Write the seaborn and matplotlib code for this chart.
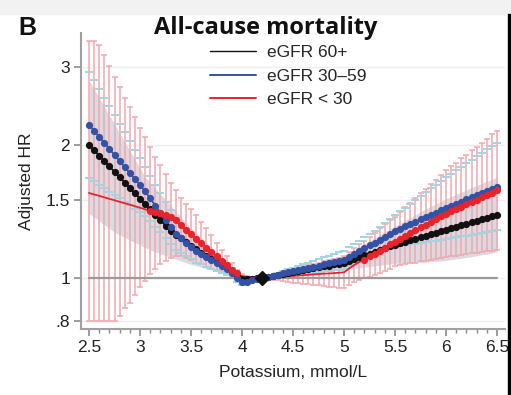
import numpy as np
import pandas as pd
import seaborn as sns
import matplotlib.pyplot as plt
from matplotlib.lines import Line2D
from matplotlib.patches import Rectangle
from matplotlib.ticker import MultipleLocator, NullLocator

# potassium grid, mmol/L
potassium = [2.5, 2.55, 2.6, 2.65, 2.7, 2.75, 2.8, 2.85, 2.9, 2.95, 3.0,
             3.05, 3.1, 3.15, 3.2, 3.25, 3.3, 3.35, 3.4, 3.45, 3.5,
             3.55, 3.6, 3.65, 3.7, 3.75, 3.8, 3.85, 3.9, 3.95, 4.0,
             4.05, 4.1, 4.15, 4.2,
             4.25, 4.3, 4.35, 4.4, 4.45, 4.5, 4.55, 4.6, 4.65, 4.7, 4.75, 4.8, 4.85, 4.9, 4.95, 5.0,
             5.05, 5.1, 5.15, 5.2, 5.25, 5.3, 5.35, 5.4, 5.45, 5.5,
             5.55, 5.6, 5.65, 5.7, 5.75, 5.8, 5.85, 5.9, 5.95, 6.0,
             6.05, 6.1, 6.15, 6.2, 6.25, 6.3, 6.35, 6.4, 6.45, 6.5]

# eGFR 60+ : HR and CI (grey band)
hr_60 = [2.000, 1.945, 1.891, 1.839, 1.788, 1.738, 1.690, 1.644, 1.598, 1.554, 1.511,
         1.470, 1.429, 1.390, 1.351, 1.314, 1.278, 1.254, 1.230, 1.207, 1.184,
         1.162, 1.141, 1.123, 1.105, 1.087, 1.068, 1.051, 1.036, 1.015, 0.995,
         0.994, 0.996, 0.998, 1.000,
         1.005, 1.010, 1.015, 1.020, 1.025, 1.030, 1.036, 1.041, 1.046, 1.051, 1.057, 1.062, 1.067, 1.073, 1.078, 1.083,
         1.093, 1.104, 1.114, 1.125, 1.135, 1.146, 1.157, 1.168, 1.179, 1.190,
         1.200, 1.209, 1.218, 1.228, 1.237, 1.247, 1.257, 1.266, 1.276, 1.287,
         1.297, 1.307, 1.317, 1.327, 1.338, 1.349, 1.359, 1.369, 1.380, 1.391]
lo_60 = [1.399, 1.372, 1.346, 1.319, 1.294, 1.270, 1.251, 1.235, 1.219, 1.203, 1.188,
         1.172, 1.157, 1.146, 1.135, 1.124, 1.114, 1.104, 1.093, 1.083, 1.074,
         1.066, 1.059, 1.051, 1.044, 1.038, 1.031, 1.022, 1.012, 1.002, 0.992,
         0.990, 0.992, 0.996, 1.000,
         1.003, 1.006, 1.009, 1.012, 1.015, 1.018, 1.021, 1.024, 1.027, 1.030, 1.034, 1.036, 1.038, 1.040, 1.042, 1.044,
         1.047, 1.051, 1.054, 1.059, 1.062, 1.065, 1.069, 1.073, 1.077, 1.080,
         1.081, 1.082, 1.082, 1.083, 1.084, 1.087, 1.089, 1.090, 1.093, 1.096,
         1.101, 1.105, 1.108, 1.113, 1.117, 1.123, 1.129, 1.133, 1.139, 1.145]
hi_60 = [2.801, 2.675, 2.555, 2.442, 2.333, 2.228, 2.128, 2.032, 1.943, 1.855, 1.772,
         1.692, 1.642, 1.595, 1.548, 1.504, 1.459, 1.416, 1.376, 1.335, 1.297,
         1.265, 1.234, 1.203, 1.174, 1.145, 1.116, 1.089, 1.064, 1.041, 1.020,
         1.014, 1.008, 1.004, 1.000,
         1.007, 1.014, 1.021, 1.028, 1.036, 1.043, 1.050, 1.058, 1.065, 1.073, 1.080, 1.089, 1.097, 1.106, 1.115, 1.124,
         1.141, 1.160, 1.177, 1.196, 1.214, 1.232, 1.252, 1.271, 1.292, 1.311,
         1.331, 1.351, 1.370, 1.391, 1.412, 1.432, 1.452, 1.471, 1.490, 1.510,
         1.528, 1.547, 1.564, 1.582, 1.602, 1.619, 1.637, 1.654, 1.672, 1.690]

# eGFR 30-59 : HR and CI (light blue caps)
hr_30 = [2.221, 2.153, 2.085, 2.022, 1.958, 1.898, 1.839, 1.782, 1.726, 1.674, 1.621,
         1.570, 1.513, 1.458, 1.405, 1.354, 1.305, 1.257, 1.230, 1.203, 1.177,
         1.151, 1.133, 1.114, 1.096, 1.079, 1.062, 1.046, 1.025, 1.000, 0.980,
         0.982, 0.988, 0.994, 1.000,
         1.006, 1.012, 1.018, 1.024, 1.030, 1.037, 1.043, 1.049, 1.054, 1.061, 1.067, 1.074, 1.080, 1.087, 1.093, 1.100,
         1.116, 1.133, 1.150, 1.168, 1.185, 1.203, 1.221, 1.240, 1.259, 1.278,
         1.293, 1.309, 1.324, 1.340, 1.357, 1.373, 1.390, 1.406, 1.423, 1.441,
         1.456, 1.473, 1.489, 1.505, 1.522, 1.540, 1.557, 1.575, 1.592, 1.610]
lo_30 = [1.685, 1.657, 1.626, 1.598, 1.568, 1.542, 1.513, 1.487, 1.459, 1.435, 1.408,
         1.383, 1.344, 1.306, 1.269, 1.231, 1.195, 1.158, 1.140, 1.122, 1.103,
         1.084, 1.073, 1.060, 1.048, 1.037, 1.025, 1.015, 1.000, 0.980, 0.965,
         0.970, 0.980, 0.990, 1.000,
         1.003, 1.006, 1.009, 1.012, 1.015, 1.018, 1.021, 1.024, 1.026, 1.029, 1.033, 1.036, 1.039, 1.042, 1.045, 1.048,
         1.062, 1.076, 1.090, 1.104, 1.119, 1.131, 1.143, 1.156, 1.166, 1.177,
         1.182, 1.186, 1.191, 1.196, 1.201, 1.206, 1.210, 1.215, 1.221, 1.228,
         1.232, 1.237, 1.242, 1.247, 1.252, 1.259, 1.264, 1.269, 1.275, 1.281]
hi_30 = [2.927, 2.798, 2.675, 2.557, 2.445, 2.337, 2.234, 2.136, 2.042, 1.952, 1.866,
         1.782, 1.702, 1.627, 1.556, 1.489, 1.425, 1.365, 1.327, 1.290, 1.256,
         1.223, 1.197, 1.171, 1.147, 1.123, 1.100, 1.078, 1.051, 1.020, 0.996,
         0.994, 0.996, 0.998, 1.000,
         1.009, 1.018, 1.027, 1.037, 1.046, 1.055, 1.065, 1.075, 1.083, 1.093, 1.103, 1.113, 1.123, 1.133, 1.143, 1.154,
         1.174, 1.194, 1.214, 1.235, 1.256, 1.280, 1.305, 1.330, 1.358, 1.387,
         1.415, 1.443, 1.473, 1.502, 1.533, 1.564, 1.595, 1.627, 1.659, 1.690,
         1.721, 1.752, 1.784, 1.817, 1.850, 1.885, 1.919, 1.954, 1.988, 2.022]

# eGFR < 30 : HR and CI (pink error bars)
hr_lt30 = [1.557, 1.545, 1.534, 1.522, 1.510, 1.499, 1.487, 1.476, 1.465, 1.453, 1.442,
           1.430, 1.420, 1.410, 1.400, 1.390, 1.375, 1.350, 1.320, 1.285, 1.255,
           1.225, 1.200, 1.170, 1.145, 1.120, 1.095, 1.070, 1.045, 1.025, 1.010,
           1.006, 1.004, 1.002, 1.000,
           1.002, 1.004, 1.006, 1.008, 1.009, 1.011, 1.013, 1.015, 1.017, 1.019, 1.021, 1.023, 1.024, 1.026, 1.028, 1.030,
           1.051, 1.070, 1.087, 1.101, 1.119, 1.135, 1.154, 1.172, 1.191, 1.209,
           1.228, 1.245, 1.264, 1.281, 1.301, 1.319, 1.339, 1.358, 1.378, 1.398,
           1.415, 1.432, 1.451, 1.468, 1.486, 1.504, 1.522, 1.542, 1.560, 1.579]
lo_lt30 = [0.800, 0.800, 0.800, 0.800, 0.800, 0.800, 0.820, 0.854, 0.880, 0.915, 0.954,
           0.984, 1.019, 1.050, 1.075, 1.095, 1.110, 1.120, 1.120, 1.110, 1.100,
           1.080, 1.074, 1.057, 1.048, 1.045, 1.035, 1.023, 1.011, 1.006, 1.000,
           1.000, 0.998, 0.999, 1.000,
           0.996, 0.992, 0.988, 0.984, 0.979, 0.976, 0.973, 0.970, 0.968, 0.965, 0.962, 0.959, 0.955, 0.953, 0.951, 0.949,
           0.965, 0.978, 0.989, 1.001, 1.008, 1.017, 1.026, 1.038, 1.050, 1.062,
           1.068, 1.073, 1.079, 1.083, 1.090, 1.094, 1.101, 1.105, 1.112, 1.116,
           1.120, 1.124, 1.129, 1.133, 1.137, 1.141, 1.145, 1.150, 1.154, 1.158]
hi_lt30 = [3.440, 3.440, 3.360, 3.190, 3.020, 2.850, 2.700, 2.550, 2.440, 2.310, 2.180,
           2.080, 1.980, 1.880, 1.800, 1.720, 1.640, 1.580, 1.520, 1.470, 1.430,
           1.390, 1.340, 1.295, 1.250, 1.200, 1.160, 1.120, 1.080, 1.045, 1.020,
           1.012, 1.006, 1.003, 1.000,
           1.008, 1.016, 1.024, 1.033, 1.040, 1.047, 1.054, 1.062, 1.069, 1.077, 1.084, 1.092, 1.099, 1.105, 1.112, 1.119,
           1.146, 1.171, 1.194, 1.214, 1.241, 1.267, 1.297, 1.324, 1.351, 1.377,
           1.411, 1.445, 1.480, 1.516, 1.553, 1.590, 1.629, 1.669, 1.709, 1.751,
           1.788, 1.824, 1.865, 1.902, 1.943, 1.982, 2.024, 2.067, 2.111, 2.153]

group_labels = ['eGFR 60+', 'eGFR 30\u201359', 'eGFR < 30']
group_colors = ['#111111', '#3352a6', '#e8232b']
ref_k = 4.2

x_ticks = [2.5, 3, 3.5, 4, 4.5, 5, 5.5, 6, 6.5]
x_ticklabels = ['2.5', '3', '3.5', '4', '4.5', '5', '5.5', '6', '6.5']
y_ticks = [0.8, 1, 1.5, 2, 3]
y_ticklabels = ['.8', '1', '1.5', '2', '3']

sns.set_theme(style='white')
plt.rcParams['font.family'] = ['Liberation Sans', 'DejaVu Sans']

df = pd.DataFrame({'k': potassium * 3,
                   'hr': hr_60 + hr_30 + hr_lt30,
                   'group': sum([[g] * len(potassium) for g in group_labels], [])})
red = pd.DataFrame({'k': potassium, 'hr': hr_lt30, 'lo': lo_lt30, 'hi': hi_lt30})
red_sig = red[(red['lo'] > 1) | (red['hi'] < 1)]

fig, ax = plt.subplots(figsize=(5.11, 3.95), dpi=100)
fig.subplots_adjust(left=81/511, right=505/511, bottom=66/395, top=362/395)

# header strip and right border from the source figure
fig.patches.append(Rectangle((0, 1 - 14/395), 1, 14/395, transform=fig.transFigure,
                             color='#f2f2f2', zorder=0))
fig.patches.append(Rectangle((507.5/511, 0), 3.5/511, 1 - 14/395, transform=fig.transFigure,
                             color='black', zorder=0))

ax.set_yscale('log')
ax.yaxis.grid(True, color='#eeeeee', lw=1)
ax.set_axisbelow(True)

# grey band: CI for eGFR 60+
ax.fill_between(potassium, lo_60, hi_60, color='#dadae2', lw=0, zorder=1)

# pink error bars: CI for eGFR < 30
ax.errorbar(red['k'], red['hr'], yerr=[red['hr'] - red['lo'], red['hi'] - red['hr']],
            fmt='none', ecolor='#f4a6ac', elinewidth=1.1, capsize=2.5, capthick=1.1, zorder=2)

# light blue caps: CI for eGFR 30-59
for bound in (lo_30, hi_30):
    ax.plot(potassium, bound, ls='none', marker='_', ms=5.5, mew=1.4,
            color='#a3d4e2', zorder=3)

ax.plot([2.5, 6.5], [1, 1], color='#9a9a9a', lw=1.6, zorder=3.5)

sns.lineplot(data=df, x='k', y='hr', hue='group', palette=dict(zip(group_labels, group_colors)),
             hue_order=group_labels, lw=1.3, legend=False, ax=ax, zorder=4)
sns.scatterplot(data=df[df['group'] == group_labels[0]], x='k', y='hr', color=group_colors[0],
                s=27, linewidth=0, ax=ax, zorder=5)
sns.scatterplot(data=df[df['group'] == group_labels[1]], x='k', y='hr', color=group_colors[1],
                s=27, linewidth=0, ax=ax, zorder=6)
sns.scatterplot(data=red_sig, x='k', y='hr', color=group_colors[2],
                s=27, linewidth=0, ax=ax, zorder=7)
ax.plot([ref_k], [1], marker='D', ms=7, color='#111111', zorder=8)

ax.set_xlim(2.4216, 6.578)
ax.set_ylim(0.767, 3.58)
ax.set_xticks(x_ticks)
ax.set_xticklabels(x_ticklabels)
ax.xaxis.set_minor_locator(MultipleLocator(0.1))
ax.set_yticks(y_ticks)
ax.set_yticklabels(y_ticklabels)
ax.yaxis.set_minor_locator(NullLocator())

ax.tick_params(which='major', direction='out', length=5, width=1.2, color='#8a8a8a',
               labelsize=12.5, labelcolor='#222222', pad=3)
ax.tick_params(axis='x', which='minor', direction='out', length=3, width=1, color='#8a8a8a',
               bottom=True)
ax.tick_params(axis='x', which='major', bottom=True)
ax.tick_params(axis='y', which='major', left=True)

sns.despine(ax=ax)
for side in ('left', 'bottom'):
    ax.spines[side].set_color('#a0a0a0')
    ax.spines[side].set_linewidth(1.5)

ax.set_xlabel('Potassium, mmol/L', fontsize=12.5, color='#222222', labelpad=7)
ax.set_ylabel('Adjusted HR', fontsize=12.5, color='#222222')
ax.yaxis.set_label_coords(-0.11, 0.5)

handles = [Line2D([0], [0], color=c, lw=1.4) for c in group_colors]
handles[0].set_linewidth(1.0)
ax.legend(handles, group_labels, loc='upper left', bbox_to_anchor=(210/511, 1 - 45/395),
          bbox_transform=fig.transFigure, frameon=False, fontsize=12.5, handlelength=2.65,
          handletextpad=0.65, labelspacing=0.48, borderpad=0, borderaxespad=0)

fig.text(266/511, 1 - 34/395, 'All-cause mortality', ha='center', va='baseline',
         fontsize=17, fontweight='bold', family=['Open Sans', 'DejaVu Sans'], color='#111111')
fig.text(18/511, 1 - 35/395, 'B', ha='left', va='baseline', fontsize=18,
         fontweight='bold', color='#111111')

fig.savefig('out.png', dpi=100)
